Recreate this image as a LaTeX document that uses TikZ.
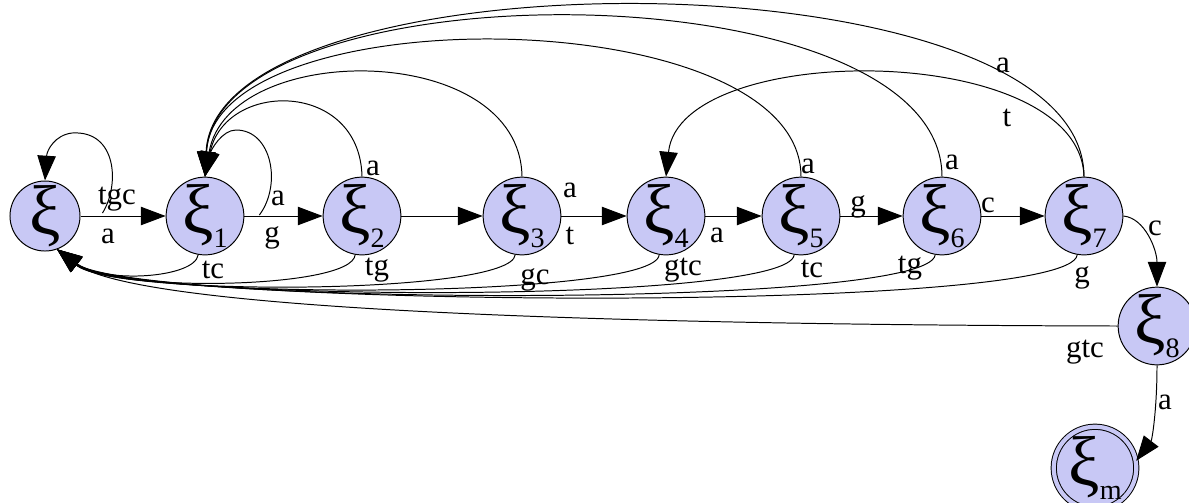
\documentclass[tikz,border=0pt]{standalone}
\usepackage{fontspec}
\setmainfont{Liberation Serif}
\usetikzlibrary{arrows.meta}
\definecolor{statefill}{RGB}{200,200,245}
\newcommand{\stsub}[1]{\raisebox{-10pt}{\fontsize{20}{20}\selectfont #1}}

\begin{document}
\begin{tikzpicture}[
        x=0.025cm, y=-0.025cm,
        line width=0.7pt,
        >={Triangle[length=0.62cm, width=0.46cm]},
        state/.style={draw, circle, fill=statefill, minimum size=1.75cm, inner sep=0pt, font=\fontsize{50}{50}\selectfont},
        accepting/.style={state, double=statefill, double distance=3pt, minimum size=1.85cm},
        % transitions and their letters
        trans/.style={->},
        lbl/.style={font=\fontsize{22}{22}\selectfont, inner sep=1pt},
    ]
    \useasboundingbox (0,0) rectangle (1189,502);

    % states
    \node [state] (s0) at (45,216) {ξ};
    \node [state] (s1) at (205,216) {ξ\stsub{1}};
    \node [state] (s2) at (362,216) {ξ\stsub{2}};
    \node [state] (s3) at (522,216) {ξ\stsub{3}};
    \node [state] (s4) at (666,216) {ξ\stsub{4}};
    \node [state] (s5) at (801,216) {ξ\stsub{5}};
    \node [state] (s6) at (942,216) {ξ\stsub{6}};
    \node [state] (s7) at (1084,216) {ξ\stsub{7}};
    \node [state] (s8) at (1157,326) {ξ\stsub{8}};
    \node [accepting] (sm) at (1095,468) {ξ\stsub{m}};

    % forward transitions
    \draw [trans] (s0) -- (s1) node [lbl] (l01) at (108,236) {a};
    \draw [trans] (s1) -- (s2) node [lbl] (l12) at (272,238) {g};
    \draw [trans] (s2) -- (s3);
    \draw [trans] (s3) -- (s4) node [lbl] (l34) at (570,236) {t};
    \draw [trans] (s4) -- (s5) node [lbl] (l45) at (717,235) {a};
    \draw [trans] (s5) -- (s6) node [lbl] (l56) at (858,207) {g};
    \draw [trans] (s6) -- (s7) node [lbl] (l67) at (988,205) {c};
    \draw [trans] (s7.east) .. controls (1145,218) and (1157,250) .. (s8.north) node [lbl] (l78) at (1155,228) {c};
    \draw [trans] (s8.south) .. controls (1157,410) and (1152,440) .. (sm.10) node [lbl] (l8m) at (1165,402) {a};

    % self loops
    \draw [trans] ([shift={(22,-3)}]s0.east) .. controls (120,185) and (117,130) .. (72,133)
        .. controls (55,135) and (47,150) .. (s0.north) node [lbl] (l00) at (117,199) {tgc};
    \draw [trans] ([shift={(15,-1)}]s1.east) .. controls (282,185) and (272,130) .. (236,130)
        .. controls (222,130) and (211,150) .. (s1.north) node [lbl] (l11) at (278,198) {a};

    % back over the top
    \draw [trans] (s2.north) .. controls (360,80) and (225,80) .. (s1.north) node [lbl] (l21) at (373,168) {a};
    \draw [trans] (s3.north) .. controls (520,40) and (228,40) .. (s1.north) node [lbl] (l31) at (570,190) {a};
    \draw [trans] (s5.north) .. controls (801,0) and (215,-5) .. (s1.north) node [lbl] (l51) at (808,166) {a};
    \draw [trans] (s6.north) .. controls (942,-35) and (218,-35) .. (s1.north) node [lbl] (l61) at (952,162) {a};
    \draw [trans] (s7.north) .. controls (1084,-50) and (215,-50) .. (s1.north) node [lbl] (l71) at (1003,65) {a};
    \draw [trans] (s7.north) .. controls (1080,40) and (680,40) .. (s4.north) node [lbl] (l74) at (1007,118) {t};

    % back underneath to the start
    \draw [trans] (s1.-100) .. controls (195,278) and (105,284) .. (s0.-70) node [lbl] (l10) at (213,270) {tc};
    \draw [trans] (s2.-100) .. controls (352,290) and (110,292) .. (s0.-70) node [lbl] (l20) at (377,270) {tg};
    \draw [trans] (s3.-100) .. controls (512,295) and (115,297) .. (s0.-70) node [lbl] (l30) at (535,280) {gc};
    \draw [trans] (s4.-100) .. controls (656,300) and (120,300) .. (s0.-70) node [lbl] (l40) at (683,270) {gtc};
    \draw [trans] (s5.-100) .. controls (790,305) and (125,302) .. (s0.-70) node [lbl] (l50) at (812,269) {tc};
    \draw [trans] (s6.-100) .. controls (930,310) and (130,305) .. (s0.-70) node [lbl] (l60) at (910,268) {tg};
    \draw [trans] (s7.-100) .. controls (1072,315) and (135,307) .. (s0.-70) node [lbl] (l70) at (1082,278) {g};
    \draw [trans] (s8.west) .. controls (650,325) and (140,312) .. (s0.-70) node [lbl] (l80) at (1085,352) {gtc};
\end{tikzpicture}
\end{document}
